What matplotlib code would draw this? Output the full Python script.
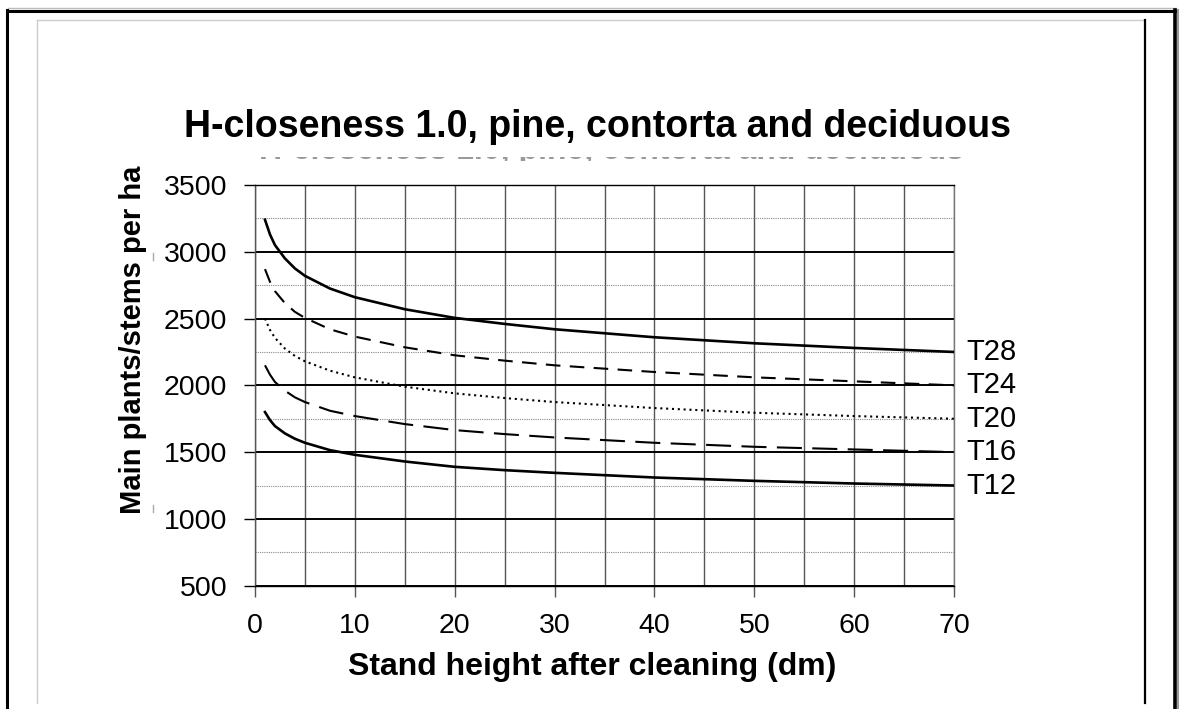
import numpy as np
import matplotlib
matplotlib.use('Agg')
import matplotlib.pyplot as plt
from matplotlib.lines import Line2D
from matplotlib.transforms import Bbox, TransformedBbox

plt.rcParams['font.family'] = ['Liberation Sans', 'DejaVu Sans']

# ---- data ----
height = [1, 1.5, 2, 3, 4, 5, 7.5, 10, 15, 20, 25, 30, 40, 50, 60, 70]   # dm
T28 = [3240, 3130, 3050, 2950, 2875, 2820, 2725, 2660, 2570, 2505, 2460, 2420, 2360, 2315, 2280, 2250]
T24 = [2870, 2775, 2705, 2615, 2550, 2505, 2420, 2365, 2285, 2225, 2185, 2150, 2100, 2060, 2030, 2000]
T20 = [2500, 2415, 2355, 2275, 2220, 2180, 2110, 2060, 1990, 1940, 1905, 1875, 1830, 1795, 1770, 1750]
T16 = [2150, 2080, 2025, 1960, 1910, 1875, 1810, 1770, 1710, 1665, 1635, 1610, 1570, 1540, 1520, 1500]
T12 = [1800, 1740, 1695, 1640, 1600, 1570, 1515, 1480, 1430, 1390, 1365, 1345, 1310, 1285, 1265, 1250]
labels = ['T28', 'T24', 'T20', 'T16', 'T12']

title = 'H-closeness 1.0, pine, contorta and deciduous'
xlabel = 'Stand height after cleaning (dm)'
ylabel = 'Main plants/stems per ha'

W, H = 1179, 709
fig = plt.figure(figsize=(W / 100, H / 100), dpi=100)
ax = fig.add_axes([255 / W, 1 - 585.7 / H, 699 / W, 400.7 / H])

series = [T28, T24, T20, T16, T12]
styles = [
    dict(ls='-', lw=1.9),
    dict(ls=(0, (7, 4.5)), lw=1.5),
    dict(ls=(0, (1, 1.8)), lw=1.5),
    dict(ls=(0, (12, 5)), lw=1.5),
    dict(ls='-', lw=1.9),
]
for ys, st, lab in zip(series, styles, labels):
    ax.plot(height, ys, color='black', zorder=3, **st)
    ax.text(71.2, ys[-1], lab, fontsize=21, va='center', ha='left', clip_on=False)

ax.set_xlim(0, 70)
ax.set_ylim(500, 3500)
ax.set_xticks(np.arange(0, 71, 10))
ax.set_xticks(np.arange(5, 70, 10), minor=True)
ax.set_yticks(np.arange(500, 3501, 500))
ax.set_yticks(np.arange(750, 3500, 500), minor=True)

ax.grid(True, axis='x', which='both', color='#555555', lw=1.0)
ax.grid(True, axis='y', which='major', color='black', lw=1.4)
ax.grid(True, axis='y', which='minor', color='#888888', lw=0.8, ls=(0, (1, 1)))
ax.set_axisbelow(True)

ax.tick_params(axis='both', which='minor', length=0)
ax.tick_params(axis='y', which='major', length=8, width=1.0, color='black', pad=12, labelsize=20.5)
ax.tick_params(axis='x', which='major', length=8, width=1.0, color='#555555', pad=12, labelsize=20.5)

ax.spines['left'].set_color('#555555')
ax.spines['right'].set_color('#777777')
ax.spines['top'].set_color('black')
ax.spines['bottom'].set_color('black')
for s in ax.spines.values():
    s.set_linewidth(1.0)

fig.text(598 / W, 1 - 127 / H, title, fontsize=27, fontweight='bold', ha='center', va='center')
fig.text(592 / W, 1 - 667 / H, xlabel, fontsize=23, fontweight='bold', ha='center', va='center')
fig.text(133 / W, 1 - 340 / H, ylabel, fontsize=21, fontweight='bold', ha='center', va='center',
         rotation=90)

# faint copy of the title hidden under the plot, only its bottom edge shows
ghost = fig.text(611 / W, 1 - 158.5 / H, title, fontsize=23, fontweight='bold', ha='center',
                 va='baseline', color='#999999')
ghost.set_clip_box(TransformedBbox(Bbox([[0, 1 - 160.5 / H], [1, 1 - 156.5 / H]]), fig.transFigure))
ghost.set_clip_on(True)


def fline(xs, ys, color='black', lw=1.0):
    fig.add_artist(Line2D([x / W for x in xs], [1 - y / H for y in ys],
                          color=color, lw=lw, transform=fig.transFigure))


# page frame
fline([8, 1176], [8, 8], color='#bbbbbb', lw=1.0)
fline([7, 1175], [10.5, 10.5], lw=2.2)
fline([7, 7], [10, 709], lw=2.2)
fline([1175, 1175], [10, 709], lw=2.6)
fline([1178, 1178], [10, 709], color='#999999', lw=1.5)
fline([37, 1145], [20, 20], color='#cccccc', lw=1.0)
fline([37, 37], [20, 703], color='#cccccc', lw=1.0)
fline([1145, 1145], [20, 703], lw=1.6)
# small stray marks left of the y label
fline([153, 153], [253, 260], color='#aaaaaa', lw=1.0)
fline([153, 153], [505, 512], color='#aaaaaa', lw=1.0)

fig.savefig('out.png', dpi=100)
